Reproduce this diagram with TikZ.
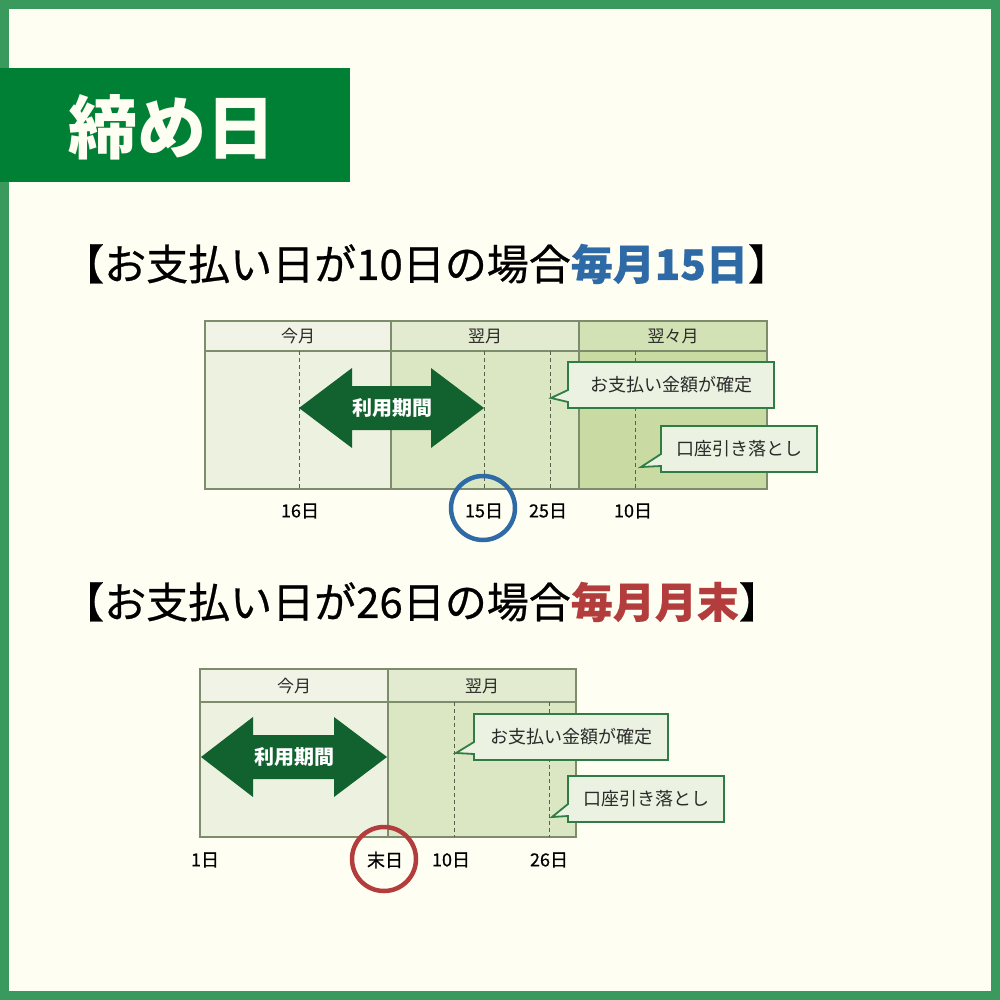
\documentclass[tikz,border=0pt]{standalone}
\usepackage{fontspec}
\setmainfont{Noto Sans CJK JP}
\newfontfamily\jpmed[FakeBold=0.6]{Noto Sans CJK JP}
\usetikzlibrary{shapes.callouts}
\definecolor{framegreen}{HTML}{3A9A5E}
\definecolor{cream}{HTML}{FFFEF2}
\definecolor{titlegreen}{HTML}{008035}
\definecolor{hblue}{HTML}{2E6AA6}
\definecolor{hred}{HTML}{B33C3C}
\definecolor{colA}{HTML}{EDF1E0}
\definecolor{colB}{HTML}{DBE7C3}
\definecolor{colC}{HTML}{C9DBA3}
\definecolor{gridline}{HTML}{7D8C6A}
\definecolor{arrowgreen}{HTML}{11622F}
\definecolor{callborder}{HTML}{2F7D45}
\definecolor{callfill}{HTML}{EBF2E1}
\definecolor{txt}{HTML}{2A2A2A}
\tikzset{
  cell/.style={draw=gridline, line width=1.2pt},
  lbl/.style={text=txt, font=\fontsize{17}{17}\selectfont, inner sep=1pt},
  datelbl/.style={text=black, font=\jpmed\fontsize{18}{18}\selectfont, inner sep=1pt},
  dashline/.style={draw=gridline!70!black, line width=0.9pt, dash pattern=on 4pt off 3pt},
  bigarrow/.style={fill=arrowgreen},
  arrowtext/.style={text=white, font=\fontsize{20}{20}\selectfont\bfseries},
  callbox/.style={rectangle callout, draw=callborder, line width=1.8pt, fill=callfill,
    callout pointer width=12pt, text=txt, font=\fontsize{18}{18}\selectfont, inner sep=0pt},
  heading/.style={anchor=west, text=black, font=\jpmed\fontsize{42}{42}\selectfont, inner sep=0pt},
  ring/.style={circle, line width=4.5pt, minimum size=64pt, inner sep=0pt}
}
\begin{document}
\begin{tikzpicture}[x=1pt,y=-1pt]
\useasboundingbox (0,0) rectangle (1000,1000);
\fill[framegreen] (0,0) rectangle (1000,1000);
\fill[cream] (9,9) rectangle (991,991);
% title
\node[fill=titlegreen, minimum width=350pt, minimum height=114pt, anchor=north west, inner sep=0pt] (titlebox) at (0,68) {};
\node[text=cream, font=\fontsize{69}{69}\selectfont\bfseries] (title) at (172,127) {締め日};
% headings
\node[heading] (head1) at (62,264) {【お支払い日が10日の場合\textcolor{hblue}{\bfseries 毎月15日}】};
\node[heading] (head2) at (62,602) {【お支払い日が26日の場合\textcolor{hred}{\bfseries 毎月月末}】};

% ---------- diagram 1 ----------
\fill[colA] (205,321) rectangle (391,489);
\fill[colB] (391,321) rectangle (579,489);
\fill[colC] (579,321) rectangle (767,489);
\fill[white, opacity=0.2] (205,321) rectangle (767,351);
\draw[cell] (205,321) rectangle (767,489);
\draw[cell] (205,351) -- (767,351);
\draw[cell] (391,321) -- (391,489);
\draw[cell] (579,321) -- (579,489);
\node[lbl] (a1) at (298,336) {今月};
\node[lbl] (a2) at (485,336) {翌月};
\node[lbl] (a3) at (673,336) {翌々月};
\draw[dashline] (299,351) -- (299,489);
\draw[dashline] (484,351) -- (484,489);
\draw[dashline] (550,351) -- (550,489);
\draw[dashline] (635,351) -- (635,489);
\fill[bigarrow] (299,408) -- (352,368) -- (352,386) -- (431,386) -- (431,368) -- (484,408)
  -- (431,448) -- (431,430) -- (352,430) -- (352,448) -- cycle;
\node[arrowtext] (p1) at (392,408) {利用期間};
\node[callbox, minimum width=206pt, minimum height=46pt, callout absolute pointer={(551,398)}] (c1) at (671,385) {お支払い金額が確定};
\node[callbox, minimum width=156pt, minimum height=46pt, callout absolute pointer={(641,467)}] (c2) at (739,449) {口座引き落とし};
\node[datelbl] (d16) at (300,511) {16日};
\node[datelbl] (d15) at (484,511) {15日};
\node[datelbl] (d25) at (548,511) {25日};
\node[datelbl] (d10) at (633,511) {10日};
\node[ring, draw=hblue] (r1) at (483,508) {};

% ---------- diagram 2 ----------
\fill[colA] (200,669) rectangle (388,837);
\fill[colB] (388,669) rectangle (576,837);
\fill[white, opacity=0.2] (200,669) rectangle (576,702);
\draw[cell] (200,669) rectangle (576,837);
\draw[cell] (200,702) -- (576,702);
\draw[cell] (388,669) -- (388,837);
\node[lbl] (b1) at (294,686) {今月};
\node[lbl] (b2) at (482,686) {翌月};
\draw[dashline] (454,702) -- (454,837);
\draw[dashline] (549,702) -- (549,837);
\fill[bigarrow] (201,757) -- (253,717) -- (253,735) -- (334,735) -- (334,717) -- (387,757)
  -- (334,797) -- (334,779) -- (253,779) -- (253,797) -- cycle;
\node[arrowtext] (p2) at (294,757) {利用期間};
\node[callbox, minimum width=194pt, minimum height=46pt, callout absolute pointer={(456,753)}] (c3) at (571,737) {お支払い金額が確定};
\node[callbox, minimum width=156pt, minimum height=46pt, callout absolute pointer={(552,817)}] (c4) at (646,799) {口座引き落とし};
\node[datelbl] (e1) at (205,860) {1日};
\node[datelbl] (eend) at (385,860) {末日};
\node[datelbl] (e10) at (451,860) {10日};
\node[datelbl] (e26) at (549,860) {26日};
\node[ring, draw=hred] (r2) at (384,859) {};
\end{tikzpicture}
\end{document}
